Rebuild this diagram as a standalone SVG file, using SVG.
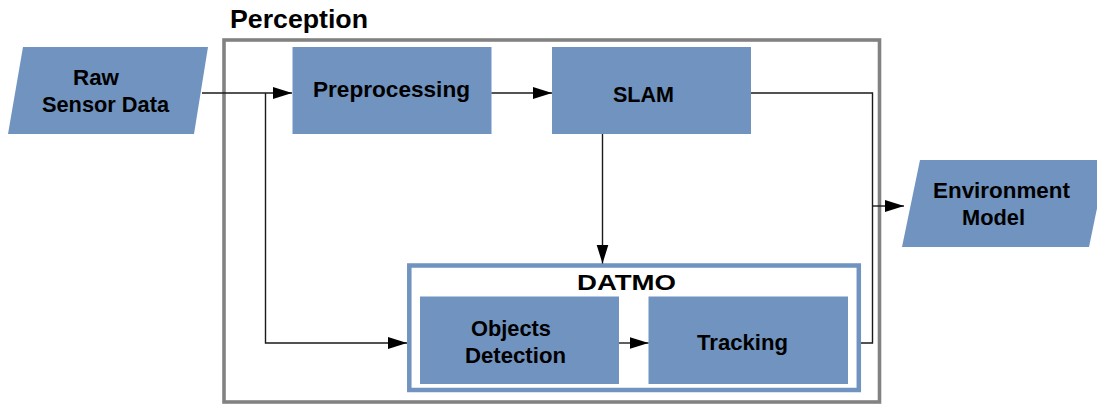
<svg xmlns="http://www.w3.org/2000/svg" width="1097" height="405" viewBox="0 0 1097 405">
<style>
  .box { fill: #7093BF; }
  .t { font-family: "Liberation Sans", Arial, sans-serif; font-weight: bold; font-size: 22px; fill: #000; }
  .c { fill: none; stroke: #1a1a1a; stroke-width: 1.4; }
</style>
<defs>
  <marker id="arr" markerUnits="userSpaceOnUse" markerWidth="20" markerHeight="13" refX="19" refY="6" orient="auto">
    <path d="M0,0 L19,6 L0,12 z" fill="#000"/>
  </marker>
</defs>
<rect width="1097" height="405" fill="#fff"/>

<g id="perception">
  <rect x="224" y="40" width="655.5" height="362" fill="none" stroke="#828282" stroke-width="3.6"/>
  <text class="t" x="230" y="28" style="font-size:25px" textLength="138" lengthAdjust="spacingAndGlyphs">Perception</text>
</g>

<g id="datmo">
  <rect x="409.3" y="265.5" width="449.5" height="124.5" fill="none" stroke="#7093BF" stroke-width="4.5"/>
  <text class="t" x="577" y="290" textLength="99" lengthAdjust="spacingAndGlyphs">DATMO</text>
</g>

<g id="raw">
  <polygon class="box" points="23,47 208,47 194,134 8,134"/>
  <text class="t" x="73" y="85" textLength="46" lengthAdjust="spacingAndGlyphs">Raw</text>
  <text class="t" x="42" y="112" textLength="127" lengthAdjust="spacingAndGlyphs">Sensor Data</text>
</g>

<g id="preprocessing">
  <rect class="box" x="292.5" y="47" width="199" height="87"/>
  <text class="t" x="313" y="97" textLength="157" lengthAdjust="spacingAndGlyphs">Preprocessing</text>
</g>

<g id="slam">
  <rect class="box" x="552" y="47" width="199" height="87"/>
  <text class="t" x="613" y="102" textLength="61" lengthAdjust="spacingAndGlyphs">SLAM</text>
</g>

<g id="objects">
  <rect class="box" x="420" y="296.5" width="199" height="87.5"/>
  <text class="t" x="471" y="336" textLength="80" lengthAdjust="spacingAndGlyphs">Objects</text>
  <text class="t" x="465" y="362.5" textLength="101" lengthAdjust="spacingAndGlyphs">Detection</text>
</g>

<g id="tracking">
  <rect class="box" x="648.5" y="296.5" width="199.5" height="87.5"/>
  <text class="t" x="697" y="350" textLength="91" lengthAdjust="spacingAndGlyphs">Tracking</text>
</g>

<g id="environment">
  <polygon class="box" points="920,160 1107,160 1089,247 902,247"/>
  <text class="t" x="933" y="198" textLength="137" lengthAdjust="spacingAndGlyphs">Environment</text>
  <text class="t" x="962" y="225" textLength="63" lengthAdjust="spacingAndGlyphs">Model</text>
</g>

<g id="connectors">
  <path class="c" d="M202,93 H292" marker-end="url(#arr)"/>
  <path class="c" d="M265.5,93 V343 H407" marker-end="url(#arr)"/>
  <path class="c" d="M491.5,93 H552" marker-end="url(#arr)"/>
  <path class="c" d="M602.5,134 V263.5" marker-end="url(#arr)"/>
  <path class="c" d="M619,343 H648.5" marker-end="url(#arr)"/>
  <path class="c" d="M751,93 H872.5 V343 H861"/>
  <path class="c" d="M872.5,206 H904" marker-end="url(#arr)"/>
</g>
</svg>
